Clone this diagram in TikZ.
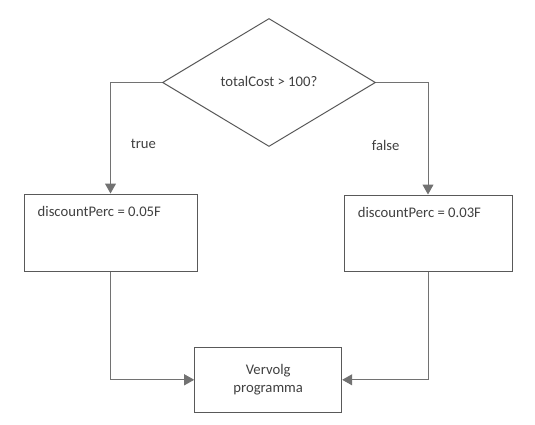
\documentclass[tikz,border=0pt]{standalone}
\usepackage{fontspec}
\setmainfont{Carlito}
\usetikzlibrary{shapes.geometric,arrows.meta}
\definecolor{lijn}{HTML}{595959}
\definecolor{tekst}{HTML}{404040}
\tikzset{
	blok/.style={draw=lijn,line width=1pt,rectangle,inner sep=0pt},
	keuze/.style={draw=lijn,line width=1pt,diamond,inner sep=0pt,minimum width=213pt,minimum height=128pt},
	pijl/.style={draw=lijn!85,line width=1pt,-{Triangle[length=10pt,width=11pt]}},
}
\begin{document}
\begin{tikzpicture}[x=1pt,y=-1pt,font=\fontsize{14.67}{18.3}\selectfont,text=tekst]
			\useasboundingbox (0,0) rectangle (535,425);
			\node[keuze] at (269,82.5) (d) {\raisebox{3pt}{totalCost > 100?}};
			\node[blok,minimum width=173pt,minimum height=77pt] at (110.5,232.5) (b1) {};
			\node[blok,minimum width=168pt,minimum height=76pt] at (428,233) (b2) {};
			\node[blok,minimum width=147pt,minimum height=65pt,align=center] at (268.2,379.8) (b3) {Vervolg\\programma};
			%
			\node[anchor=west,inner sep=0pt] at (37.5,211.3) (t1) {discountPerc = 0.05F};
			\node[anchor=west,inner sep=0pt] at (357.6,212.7) (t2) {discountPerc = 0.03F};
			\node at (143.4,144.3) (ja) {true};
			\node at (385.7,145) (nee) {false};
			%
			\draw[pijl] (d.west) -| (b1.north);
			\draw[pijl] (d.east) -| (b2.north);
			\draw[pijl] (b1.south) |- (b3.west);
			\draw[pijl] (b2.south) |- (b3.east);
		\end{tikzpicture}
\end{document}
